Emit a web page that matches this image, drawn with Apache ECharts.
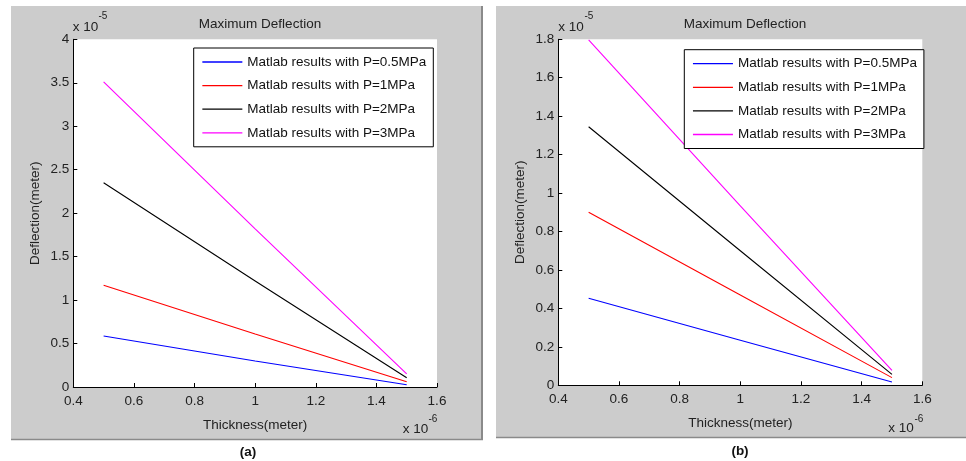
<!DOCTYPE html>
<html>
<head>
<meta charset="utf-8">
<script src="https://cdn.jsdelivr.net/npm/echarts@6/dist/echarts.min.js"></script>
<style>
html,body{margin:0;padding:0;background:#fff;}
#chart{width:966px;height:461px;}
</style>
</head>
<body>
<div id="chart"></div>
<script>
// Thickness (x 10^-6 m)
var thickness = [0.5, 1.0, 1.5];
var xTicks = [0.4, 0.6, 0.8, 1.0, 1.2, 1.4, 1.6];
// Panel (a) deflection (x 10^-5 m)
var a_p05 = [0.587, 0.300, 0.025];
var a_p1  = [1.170, 0.610, 0.060];
var a_p2  = [2.350, 1.220, 0.107];
var a_p3  = [3.510, 1.820, 0.150];
// Panel (b) deflection (x 10^-5 m)
var b_p05 = [0.453, 0.234, 0.017];
var b_p1  = [0.900, 0.470, 0.040];
var b_p2  = [1.345, 0.700, 0.057];
var b_p3  = [1.797, 0.933, 0.078];

var names = ['Matlab results with P=0.5MPa','Matlab results with P=1MPa','Matlab results with P=2MPa','Matlab results with P=3MPa'];
var colors = ['#0000ff','#ff0000','#000000','#ff00ff'];
var FONT = 'Liberation Sans, Arial, sans-serif';
var FS = 13.5;

function pairs(ys){ return thickness.map(function(x,i){ return [x, ys[i]]; }); }
function fmt(v){ return String(+(+v).toFixed(1)); }

function xAxisOf(gi){
  return {
    type:'value', gridIndex:gi, min:0.4, max:1.6, interval:0.2,
    name:'Thickness(meter)', nameLocation:'middle', nameGap:31,
    nameTextStyle:{fontFamily:FONT,fontSize:FS,color:'#222'},
    axisLine:{show:true,lineStyle:{color:'#000',width:1}},
    axisTick:{show:true,inside:true,length:4,lineStyle:{color:'#000'}},
    axisLabel:{fontFamily:FONT,fontSize:FS,color:'#222',margin:7,formatter:fmt,showMinLabel:true,showMaxLabel:true},
    splitLine:{show:false}
  };
}
function yAxisOf(gi, max, interval){
  return {
    type:'value', gridIndex:gi, min:0, max:max, interval:interval,
    name:'Deflection(meter)', nameLocation:'middle', nameGap:31,
    nameTextStyle:{fontFamily:FONT,fontSize:FS,color:'#222'},
    axisLine:{show:true,lineStyle:{color:'#000',width:1}},
    axisTick:{show:true,inside:true,length:4,lineStyle:{color:'#000'}},
    axisLabel:{fontFamily:FONT,fontSize:FS,color:'#222',margin:4,formatter:fmt,showMinLabel:true,showMaxLabel:true},
    splitLine:{show:false}
  };
}
function legendOf(left, top){
  return {
    orient:'vertical', left:left, top:top, data:names,
    backgroundColor:'#fff', borderColor:'#000', borderWidth:1,
    padding:[7,7,7,8], itemWidth:40, itemHeight:14, itemGap:9.6,
    itemStyle:{color:'rgba(0,0,0,0)', borderWidth:0, opacity:0},
    lineStyle:{width:1.3},
    textStyle:{fontFamily:FONT,fontSize:FS,color:'#111'},
    selectedMode:false
  };
}
function seriesOf(gi, arrs){
  return arrs.map(function(ys,i){
    return {
      type:'line', name:names[i], xAxisIndex:gi, yAxisIndex:gi,
      data:pairs(ys), symbol:'none', showSymbol:false, animation:false,
      lineStyle:{color:colors[i],width:1.1}, itemStyle:{color:colors[i]}, z:3
    };
  });
}
function txt(x,y,s,size,opts){
  return Object.assign({type:'text', x:x, y:y, z:10, silent:true,
    style:{text:s, fontFamily:FONT, fontSize:size, fill:'#222', textVerticalAlign:'middle'}}, opts||{});
}

var chart = echarts.init(document.getElementById('chart'), null, {renderer:'canvas'});
chart.setOption({
  animation:false,
  backgroundColor:'#fff',
  title:[
    {text:'Maximum Deflection', left:255, top:12, textAlign:'center', textStyle:{fontFamily:FONT,fontSize:FS,fontWeight:'normal',color:'#222'}},
    {text:'Maximum Deflection', left:740, top:12, textAlign:'center', textStyle:{fontFamily:FONT,fontSize:FS,fontWeight:'normal',color:'#222'}},
    {text:'(a)', left:243, top:440, textAlign:'center', textStyle:{fontFamily:FONT,fontSize:FS,fontWeight:'bold',color:'#111'}},
    {text:'(b)', left:735, top:439, textAlign:'center', textStyle:{fontFamily:FONT,fontSize:FS,fontWeight:'bold',color:'#111'}}
  ],
  graphic:[
    {type:'rect', z:-10, silent:true, shape:{x:11,y:6,width:471,height:433}, style:{fill:'#cccccc'}},
    {type:'line', z:-9, silent:true, shape:{x1:482,y1:6,x2:482,y2:440}, style:{stroke:'#8a8a8a',lineWidth:2}},
    {type:'line', z:-9, silent:true, shape:{x1:11,y1:439.5,x2:483,y2:439.5}, style:{stroke:'#8a8a8a',lineWidth:1.5}},
    {type:'rect', z:-10, silent:true, shape:{x:496,y:6,width:470,height:431}, style:{fill:'#cccccc'}},
    {type:'line', z:-9, silent:true, shape:{x1:496,y1:437.5,x2:966,y2:437.5}, style:{stroke:'#8a8a8a',lineWidth:1.5}},
    txt(72.7, 27, 'x 10', FS),
    txt(98.5, 16.5, '-5', 10),
    txt(558.3, 27, 'x 10', FS),
    txt(584.5, 16.5, '-5', 10),
    txt(402.7, 429, 'x 10', FS),
    txt(428.5, 419.5, '-6', 10),
    txt(888.3, 428.5, 'x 10', FS),
    txt(914.5, 419, '-6', 10)
  ],
  grid:[
    {left:73.3, top:39.3, width:363.7, height:347.7, show:true, backgroundColor:'#fff', borderWidth:0},
    {left:558.3, top:39.3, width:364, height:346, show:true, backgroundColor:'#fff', borderWidth:0}
  ],
  xAxis:[xAxisOf(0), xAxisOf(1)],
  yAxis:[yAxisOf(0,4,0.5), yAxisOf(1,1.8,0.2)],
  legend:[legendOf(193.7,48), legendOf(684.3,49.7)],
  series:seriesOf(0,[a_p05,a_p1,a_p2,a_p3]).concat(seriesOf(1,[b_p05,b_p1,b_p2,b_p3]))
});
</script>
</body>
</html>
